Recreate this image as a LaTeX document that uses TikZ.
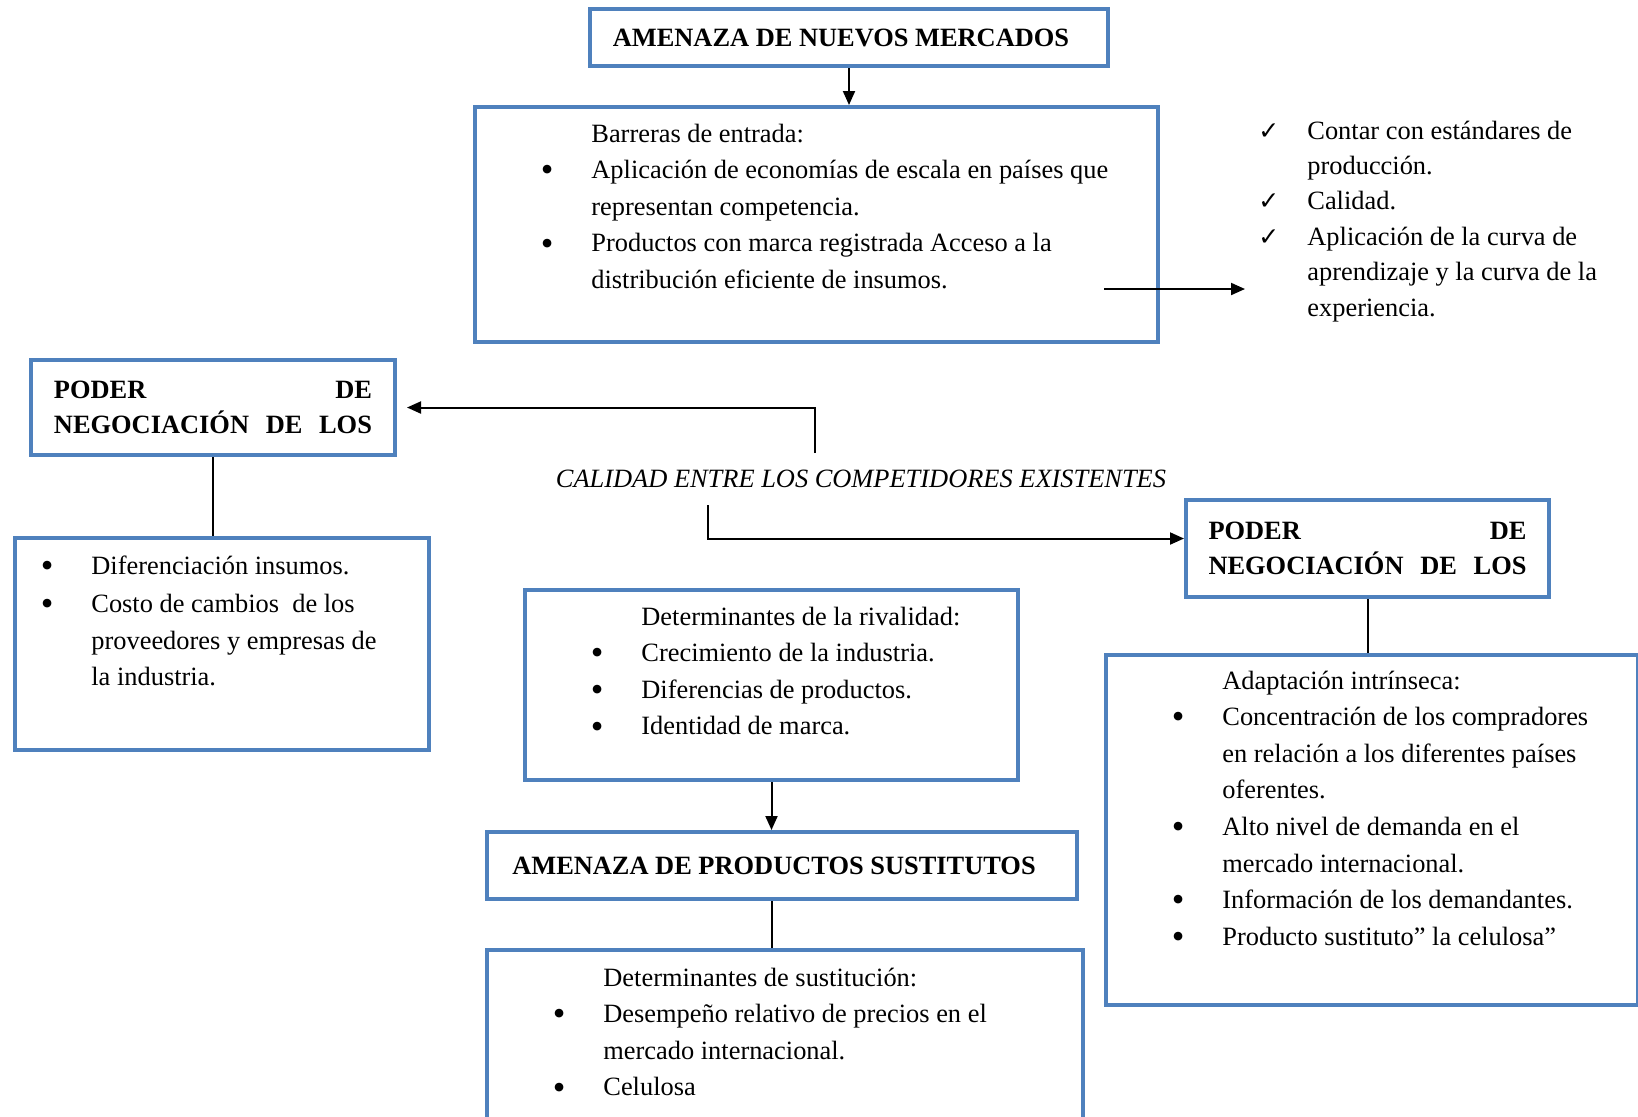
\documentclass[tikz,border=0pt]{standalone}
\usepackage{fontspec}
\setmainfont{Liberation Serif}
\newfontfamily\symfont{DejaVu Sans}
\usetikzlibrary{arrows.meta,positioning}
\definecolor{boxblue}{RGB}{79,129,189}
\newcommand{\itm}{\leavevmode\llap{\raisebox{-1.6pt}{\fontsize{18}{18}\selectfont\textbullet}\hspace{19pt}}}
\newcommand{\chk}{\leavevmode\llap{{\symfont\fontsize{12.5}{12.5}\selectfont ✓}\hspace{14pt}}}
\newcommand{\poderlbl}{\makebox[159pt][s]{PODER\hfill DE}\\\makebox[159pt][s]{NEGOCIACIÓN\hfill DE\hfill LOS}}
\tikzset{
  box/.style={draw=boxblue,line width=2pt,anchor=north west,inner sep=0pt},
  txt/.style={anchor=north west,align=left,inner sep=0pt,font=\fontsize{13.2}{18.3}\selectfont},
  head/.style={font=\fontsize{13.2}{17.5}\selectfont\bfseries,align=left},
  conn/.style={line width=1pt}
}
\begin{document}
\begin{tikzpicture}[x=0.5pt,y=-0.5pt,>={Triangle[length=7pt,width=6pt]}]
\useasboundingbox (0,0) rectangle (1638,1116);
\clip (0,0) rectangle (1638,1116);
% amenaza de nuevos mercados
\node[box,head,minimum width=259pt,minimum height=28.5pt] (nuevos) at (588,7) {\hspace*{-8pt}AMENAZA DE NUEVOS MERCADOS};
\node[box,minimum width=341.5pt,minimum height=117.5pt] (barreras) at (473,105) {};
\node[txt] (barrerastxt) at (591,116) {\strut Barreras de entrada:\\ \itm Aplicación de economías de escala en países que\\ representan competencia.\\ \itm Productos con marca registrada Acceso a la\\ distribución eficiente de insumos.};
\node[txt,font=\fontsize{13.2}{17.7}\selectfont] (checks) at (1307,114) {\strut\chk Contar con estándares de\\ producción.\\ \chk Calidad.\\ \chk Aplicación de la curva de\\ aprendizaje y la curva de la\\ experiencia.};
\coordinate (b1) at (1104,289);
\coordinate (b2) at (1245,289);
\draw[conn,->] (nuevos.south) -- (nuevos.south |- barreras.north);
\draw[conn,->] (b1) -- (b2);
% proveedores
\node[box,head,minimum width=182pt,minimum height=47.5pt] (poderL) at (29,358) {\poderlbl};
\node[box,minimum width=207pt,minimum height=106pt] (proveed) at (13,536) {};
\node[txt] (proveedtxt) at (91,548) {\strut\itm Diferenciación insumos.\\[1pt] \itm Costo de cambios\ \ de los\\ proveedores y empresas de\\ la industria.};
\draw[conn] (poderL.south) -- (poderL.south |- proveed.north);
% competidores
\node[font=\fontsize{13.2}{18}\selectfont\itshape] (calidad) at (861,479) {CALIDAD ENTRE LOS COMPETIDORES EXISTENTES};
\coordinate (c1) at (815,453);
\coordinate (c2) at (708,505);
% compradores
\node[box,head,minimum width=181.5pt,minimum height=48.5pt] (poderR) at (1184,498) {\poderlbl};
\node[box,minimum width=266pt,minimum height=175pt] (compr) at (1104,653) {};
\node[txt] (comprtxt) at (1222,663) {\strut Adaptación intrínseca:\\ \itm Concentración de los compradores\\ en relación a los diferentes países\\ oferentes.\\ \itm Alto nivel de demanda en el\\ mercado internacional.\\ \itm Información de los demandantes.\\ \itm Producto sustituto” la celulosa”};
\draw[conn] (poderR.south) -- (poderR.south |- compr.north);
\draw[conn,->] (c1) |- ([xshift=5pt]poderL.east);
\draw[conn,->] (c2) |- ([yshift=5pt]poderR.west);
% rivalidad y sustitutos
\node[box,minimum width=246.5pt,minimum height=95pt] (rival) at (523,588) {};
\node[txt] (rivaltxt) at (641,599) {\strut Determinantes de la rivalidad:\\ \itm Crecimiento de la industria.\\ \itm Diferencias de productos.\\ \itm Identidad de marca.};
\node[box,head,minimum width=295pt,minimum height=33.5pt] (sustit) at (485,830) {\hspace*{-8pt}AMENAZA DE PRODUCTOS SUSTITUTOS};
\node[box,minimum width=298pt,minimum height=100pt] (determ) at (485,948) {};
\node[txt] (determtxt) at (603,960) {\strut Determinantes de sustitución:\\ \itm Desempeño relativo de precios en el\\ mercado internacional.\\ \itm Celulosa};
\draw[conn,->] (rival.south) -- (rival.south |- sustit.north);
\draw[conn] (rival.south |- sustit.south) -- (rival.south |- determ.north);
\end{tikzpicture}
\end{document}
